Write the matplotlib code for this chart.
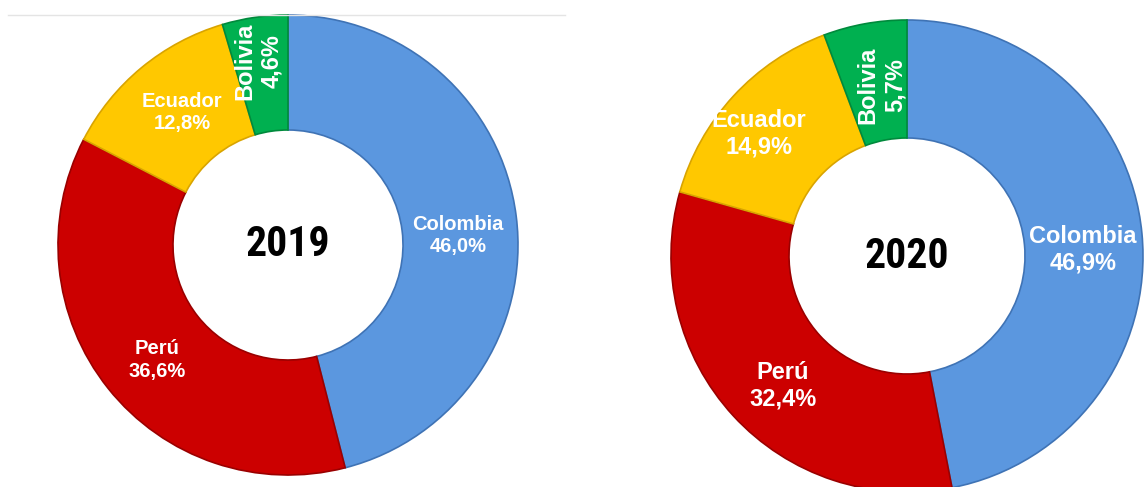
"""Donut charts 2019 / 2020."""

import matplotlib.pyplot as plt
from matplotlib.lines import Line2D

# data
countries = ['Colombia', 'Perú', 'Ecuador', 'Bolivia']
shares_2019 = [46.0, 36.6, 12.8, 4.6]
shares_2020 = [46.9, 32.4, 14.9, 5.7]
years = ['2019', '2020']

colors = ['#5B97DF', '#CC0000', '#FFC800', '#00B050']
edges = ['#3F73B5', '#9A0000', '#D9A400', '#008A3C']

# label anchors, in units of the outer radius
label_xy_2019 = [(0.739, 0.043), (-0.570, -0.500), (-0.461, 0.574), (-0.128, 0.800)]
label_xy_2020 = [(0.746, 0.025), (-0.525, -0.551), (-0.627, 0.517), (-0.108, 0.725)]

W, H = 1144, 487
fig = plt.figure(figsize=(W / 100, H / 100), dpi=100)

# gray rule above left chart
fig.add_artist(Line2D([8 / W, 565 / W], [1 - 15 / H] * 2, color='#e4e4e4', lw=1))


def donut(cx, cy, R, values, year, label_xy, fs):
    ax = fig.add_axes([(cx - R) / W, (H - cy - R) / H, 2 * R / W, 2 * R / H])
    wedges, _ = ax.pie(values, colors=colors, startangle=90, counterclock=False,
                       radius=1, wedgeprops=dict(width=0.5, edgecolor='none'))
    ax.set_xlim(-1, 1)
    ax.set_ylim(-1, 1)
    ax.axis('off')
    for w, e in zip(wedges, edges):
        w.set_edgecolor(e)
        w.set_linewidth(1.2)
        w.set_clip_on(False)
    for name, v, (x, y) in zip(countries, values, label_xy):
        txt = '%s\n%s%%' % (name, ('%.1f' % v).replace('.', ','))
        bol = name == 'Bolivia'
        ax.text(x, y, txt, ha='center', va='center', color='white',
                fontsize=17 if bol else fs, fontweight='bold',
                family=['Liberation Sans', 'DejaVu Sans'],
                rotation=90 if bol else 0, linespacing=1.2)
    ax.text(0, 0, year, ha='center', va='center', color='black', fontsize=30,
            fontweight='bold', fontstretch='condensed',
            family=['Roboto Condensed', 'Open Sans Condensed', 'DejaVu Sans'])


donut(288, 245, 230, shares_2019, years[0], label_xy_2019, 14.5)
donut(907, 256, 236, shares_2020, years[1], label_xy_2020, 17)

plt.savefig('out.png', dpi=100)
